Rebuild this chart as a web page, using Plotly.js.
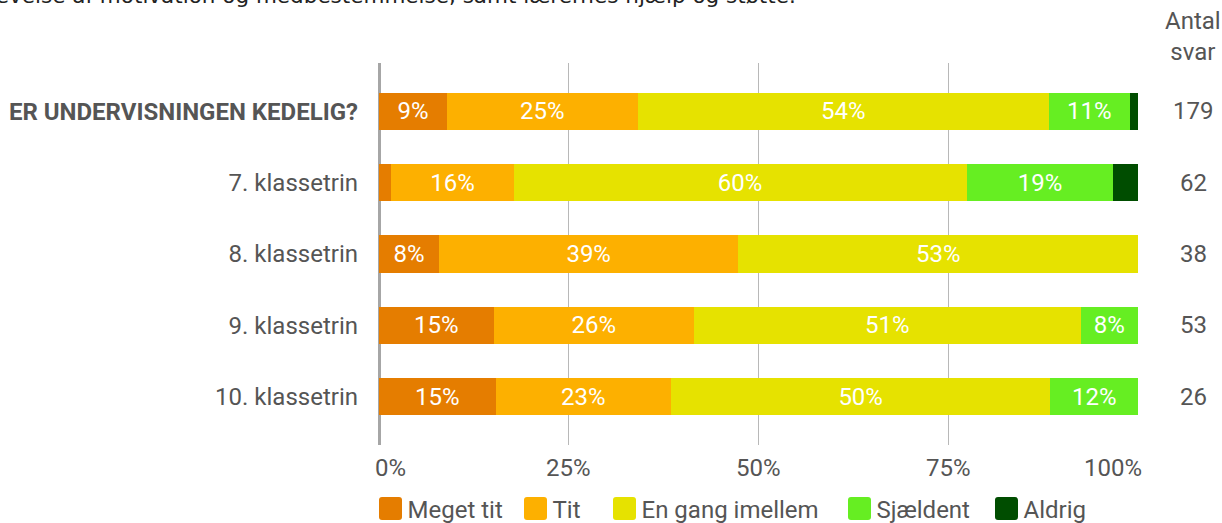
<!DOCTYPE html>
<html>
<head>
<meta charset="utf-8">
<script src="https://cdn.plot.ly/plotly-3.0.1.min.js"></script>
<style>
  html, body { margin: 0; padding: 0; background: #fff; }
  #chart { width: 1222px; height: 523px; }
</style>
</head>
<body>
<div id="chart"></div>
<script>
// ---- data (percent of answers) ----
var categories = ["ER UNDERVISNINGEN KEDELIG?", "7. klassetrin", "8. klassetrin", "9. klassetrin", "10. klassetrin"];
var antalSvar = [179, 62, 38, 53, 26];
var seriesNames = ["Meget tit", "Tit", "En gang imellem", "Sjældent", "Aldrig"];
var megetTit = [8.94, 1.61, 7.89, 15.09, 15.38];
var tit = [25.14, 16.13, 39.47, 26.42, 23.08];
var enGangImellem = [54.19, 59.68, 52.63, 50.94, 50.00];
var sjaeldent = [10.61, 19.35, 0, 7.55, 11.54];
var aldrig = [1.12, 3.23, 0, 0, 0];
var xTickVals = [0, 25, 50, 75, 100];
var xTickText = ["0%", "25%", "50%", "75%", "100%"];
var titleText = "Elevernes oplevelse af motivation og medbestemmelse, samt lærernes hjælp og støtte.";
var antalTitle = "Antal<br>svar";

var colors = ["#E57D00", "#FDB000", "#E6E200", "#66EE22", "#004D00"];
var seriesValues = [megetTit, tit, enGangImellem, sjaeldent, aldrig];

var FONT = "Roboto, 'Open Sans', sans-serif";
var GREY = "#555555";

// legend item positions (pixel x of each legend square's left edge)
var legendSquareLeft = [379, 524, 613, 848, 995];
var PLOT_L = 379, PLOT_W = 759, PLOT_B = 445, PLOT_H = 382;
var legendIds = ["legend", "legend2", "legend3", "legend4", "legend5"];

var traces = seriesValues.map(function (vals, i) {
  return {
    type: "bar",
    orientation: "h",
    name: seriesNames[i],
    legend: legendIds[i],
    x: vals,
    y: categories,
    marker: { color: colors[i], line: { width: 0 } },
    text: vals.map(function (v) { return v >= 5 ? Math.round(v) + "%" : ""; }),
    textposition: "inside",
    insidetextanchor: "middle",
    textangle: 0,
    constraintext: "none",
    insidetextfont: { family: FONT, size: 24, color: "#ffffff" },
    hoverinfo: "name+x"
  };
});

var annotations = [];
// count column
categories.forEach(function (c, i) {
  annotations.push({
    xref: "paper", yref: "y", x: 1.0725, y: c,
    text: String(antalSvar[i]), showarrow: false,
    xanchor: "center", yanchor: "middle",
    font: { family: FONT, size: 24, color: GREY }
  });
});
annotations.push({
  xref: "paper", yref: "paper", x: 1.0725, y: 1.07,
  text: antalTitle, showarrow: false, xanchor: "center", yanchor: "middle",
  font: { family: FONT, size: 24, color: GREY }
});
// x tick labels (ends pulled inward as in reference)
xTickVals.forEach(function (v, i) {
  var anchor = i === 0 ? "left" : (i === xTickVals.length - 1 ? "right" : "center");
  annotations.push({
    xref: "x", yref: "paper", x: v, y: -0.06,
    text: xTickText[i], showarrow: false,
    xanchor: anchor, yanchor: "middle",
    xshift: i === 0 ? -6 : (i === xTickVals.length - 1 ? 6 : 0),
    font: { family: FONT, size: 24, color: GREY }
  });
});
// clipped title at very top
annotations.push({
  xref: "paper", yref: "paper", x: (798 - PLOT_L) / PLOT_W, y: 1.178,
  text: titleText, showarrow: false, xanchor: "right", yanchor: "middle",
  font: { family: "DejaVu Sans, sans-serif", size: 21.5, color: "#222222" }
});

var layout = {
  width: 1222, height: 523,
  margin: { l: 379, r: 84, t: 63, b: 78, autoexpand: false },
  paper_bgcolor: "#ffffff", plot_bgcolor: "#ffffff",
  barmode: "stack",
  bargap: 0.48,
  font: { family: FONT, size: 24, color: GREY },
  showlegend: true,
  xaxis: {
    range: [0, 100], fixedrange: true,
    tickvals: xTickVals, showticklabels: false,
    showgrid: true, gridcolor: "#b8b8b8", gridwidth: 1,
    zeroline: true, zerolinecolor: "#a6a6a6", zerolinewidth: 3,
    showline: false, ticks: ""
  },
  yaxis: {
    type: "category", range: [4.68, -0.68], fixedrange: true,
    tickvals: categories,
    ticktext: categories.map(function (c, i) { return i === 0 ? "<b>" + c + "</b>" : c; }),
    tickfont: { family: FONT, size: 24, color: GREY },
    ticks: "", ticklabelstandoff: 20,
    showgrid: false, zeroline: false, showline: false
  },
  annotations: annotations
};

legendIds.forEach(function (id, i) {
  layout[id] = {
    orientation: "h",
    x: (legendSquareLeft[i] - 11.5 - PLOT_L) / PLOT_W, xanchor: "left",
    y: -(509 - PLOT_B) / PLOT_H, yanchor: "middle",
    font: { family: FONT, size: 24, color: GREY },
    bgcolor: "rgba(0,0,0,0)",
    itemclick: false, itemdoubleclick: false
  };
});

Plotly.newPlot("chart", traces, layout, { displayModeBar: false, staticPlot: true }).then(function () {
  var paths = document.querySelectorAll("#chart .legendpoints path");
  paths.forEach(function (p) {
    p.setAttribute("d", "M-8.5,-8.5A3,3 0 0 1 -5.5,-11.5H11.5A3,3 0 0 1 14.5,-8.5V8.5A3,3 0 0 1 11.5,11.5H-5.5A3,3 0 0 1 -8.5,8.5Z");
  });
});
</script>
</body>
</html>
